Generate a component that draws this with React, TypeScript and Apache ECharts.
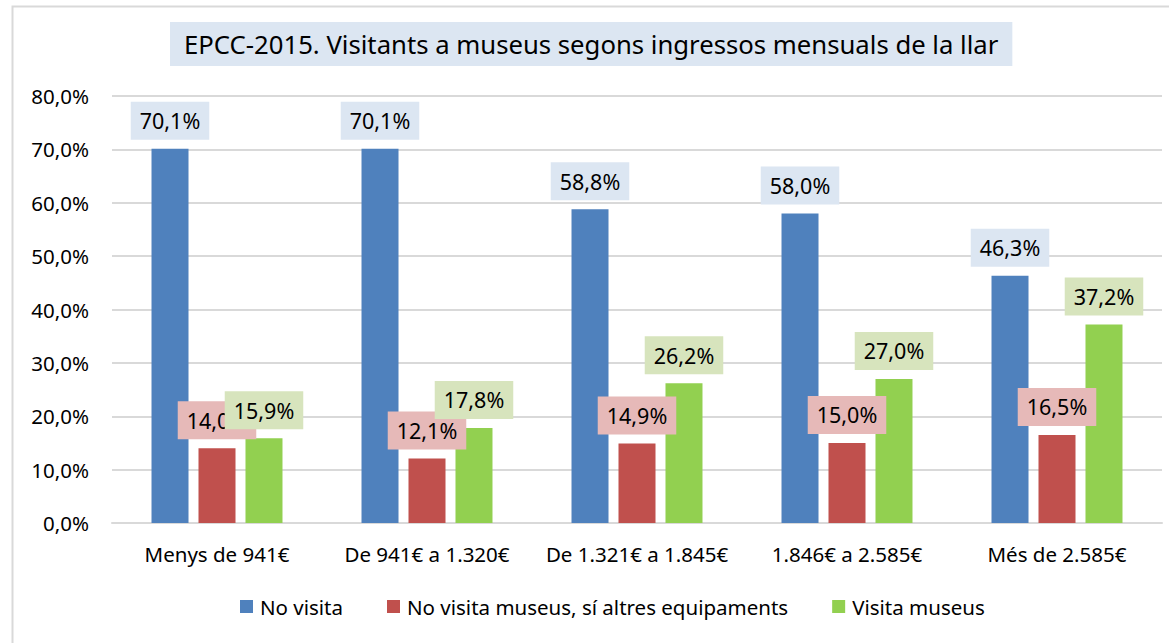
import React, { useEffect, useRef } from "react";
import * as echarts from "echarts";

const categories = [
  "Menys de 941€",
  "De 941€ a 1.320€",
  "De 1.321€ a 1.845€",
  "1.846€ a 2.585€",
  "Més de 2.585€",
];
const seriesNames = [
  "No visita",
  "No visita museus, sí altres equipaments",
  "Visita museus",
];
const noVisita = [70.1, 70.1, 58.8, 58.0, 46.3];
const noVisitaMuseus = [14.0, 12.1, 14.9, 15.0, 16.5];
const visitaMuseus = [15.9, 17.8, 26.2, 27.0, 37.2];
const titleText = "EPCC-2015. Visitants a museus segons ingressos mensuals de la llar";

const FONT = "Noto Sans";
const fmt = (v: number) => v.toFixed(1).replace(".", ",") + "%";

export default function App() {
  const ref = useRef<HTMLDivElement>(null);
  useEffect(() => {
    if (!ref.current) return;
    const chart = echarts.init(ref.current, null, { renderer: "svg" });
    const mkSeries = (name: string, data: number[], color: string, bg: string) => ({
      name,
      type: "bar",
      data,
      barWidth: 37,
      barGap: "27%",
      itemStyle: { color },
      label: {
        show: true,
        position: "top",
        distance: 9,
        formatter: (p: any) => fmt(p.value),
        color: "#000",
        fontFamily: FONT,
        fontSize: 21.5,
        lineHeight: 20,
        backgroundColor: bg,
        padding: [9, 9, 9, 9],
      },
    });
    chart.setOption({
      animation: false,
      backgroundColor: "#fff",
      textStyle: { fontFamily: FONT },
      title: {
        text: titleText,
        left: 170,
        top: 22,
        backgroundColor: "#dce6f2",
        padding: [8, 14, 8, 14],
        textStyle: {
          fontFamily: FONT,
          fontSize: 25.7,
          fontWeight: "normal",
          color: "#000",
          lineHeight: 28,
        },
      },
      legend: {
        data: seriesNames,
        bottom: 21,
        left: 235,
        itemWidth: 13,
        itemHeight: 13,
        itemGap: 44,
        icon: "rect",
        textStyle: { fontFamily: FONT, fontSize: 20.5, color: "#000", padding: [0, 0, 0, 2] },
      },
      grid: { left: 112, right: 7, top: 96, bottom: 120, containLabel: false },
      xAxis: {
        type: "category",
        data: categories,
        axisLine: { lineStyle: { color: "#d9d9d9", width: 2 } },
        axisTick: { show: false },
        axisLabel: { fontFamily: FONT, fontSize: 20.5, color: "#000", margin: 20, interval: 0 },
      },
      yAxis: {
        type: "value",
        min: 0,
        max: 80,
        interval: 10,
        axisLine: { show: false },
        axisTick: { show: false },
        splitLine: { lineStyle: { color: "#d9d9d9", width: 2 } },
        axisLabel: {
          fontFamily: FONT,
          fontSize: 20.5,
          color: "#000",
          margin: 23,
          formatter: (v: number) => fmt(v),
        },
      },
      graphic: [
        {
          type: "rect",
          shape: { x: 12.5, y: 6.5, width: 1200, height: 700 },
          style: { fill: "none", stroke: "#d9d9d9", lineWidth: 2 },
          silent: true,
          z: -10,
        },
      ],
      series: [
        mkSeries(seriesNames[0], noVisita, "#4f81bd", "#dce6f2"),
        mkSeries(seriesNames[1], noVisitaMuseus, "#c0504d", "#e6b9b8"),
        mkSeries(seriesNames[2], visitaMuseus, "#92d050", "#d7e4bd"),
      ],
    });
    return () => chart.dispose();
  }, []);
  return (
    <div
      ref={ref}
      style={{ position: "fixed", left: 0, top: 0, width: 1169, height: 643 }}
    />
  );
}
